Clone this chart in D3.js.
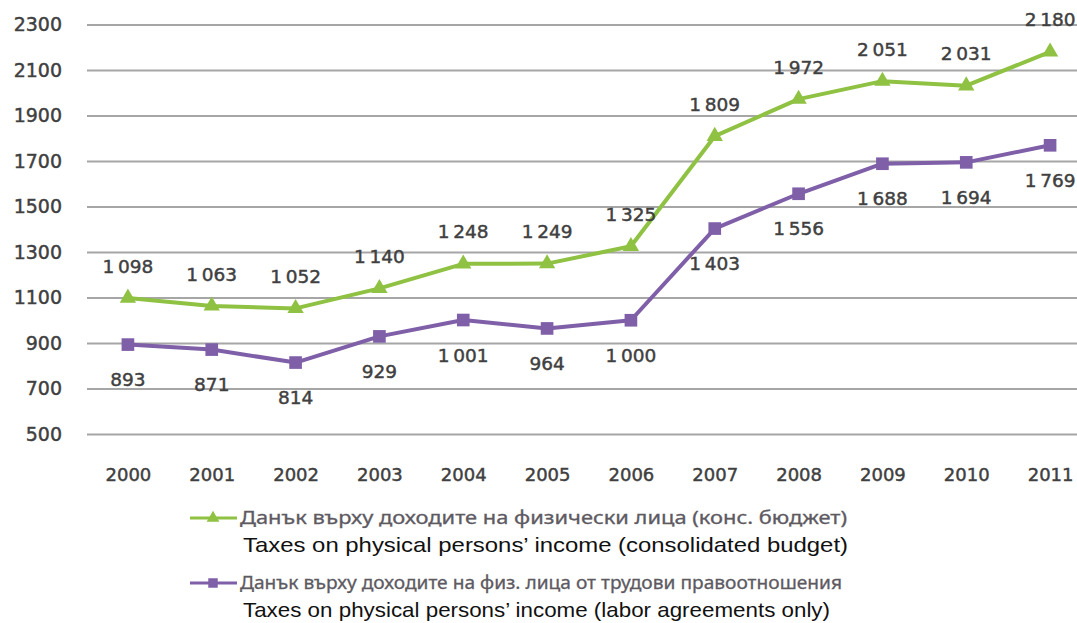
<!DOCTYPE html>
<html>
<head>
<meta charset="utf-8">
<script src="https://cdn.jsdelivr.net/npm/d3@7"></script>
<style>
  html, body { margin: 0; padding: 0; background: #ffffff; }
  svg { display: block; }
</style>
</head>
<body>
<svg id="chart" width="1077" height="623"></svg>
<script>
// Personal income tax revenue, 2000–2011
const years = ["2000", "2001", "2002", "2003", "2004", "2005", "2006", "2007", "2008", "2009", "2010", "2011"];
const consolidatedBudget = [1098, 1063, 1052, 1140, 1248, 1249, 1325, 1809, 1972, 2051, 2031, 2180];
const laborAgreements = [893, 871, 814, 929, 1001, 964, 1000, 1403, 1556, 1688, 1694, 1769];
const yTickValues = [500, 700, 900, 1100, 1300, 1500, 1700, 1900, 2100, 2300];
const legendLocal = [
  "Данък върху доходите на физически лица (конс. бюджет)",
  "Данък върху доходите на физ. лица от трудови правоотношения"
];
const legendEnglish = [
  "Taxes on physical persons’ income (consolidated budget)",
  "Taxes on physical persons’ income (labor agreements only)"
];

const GREEN = "#8fc142";
const PURPLE = "#7f5fa8";
const TEXT = "#404040";
const LABEL_FONT = "'DejaVu Sans', sans-serif";

const svg = d3.select("#chart");

const plot = { left: 86, right: 1092, top: 24.5, bottom: 434 };

const x = d3.scalePoint().domain(years).range([plot.left, plot.right]).padding(0.5);
const y = d3.scaleLinear().domain([500, 2300]).range([plot.bottom, plot.top]);

// Slightly heavier digits for axis and value labels
function heavy(sel) {
  sel.attr("fill", TEXT)
    .attr("stroke", TEXT)
    .attr("stroke-width", 0.45)
    .style("font-family", LABEL_FONT);
}

// Horizontal gridlines with value labels on the left
const yAxis = svg.append("g")
  .attr("transform", `translate(${plot.left + 1},0)`)
  .call(d3.axisLeft(y)
    .tickValues(yTickValues)
    .tickSize(-(plot.right - plot.left))
    .tickPadding(25)
    .tickFormat(d3.format("d")));
yAxis.select(".domain").remove();
yAxis.selectAll(".tick line").attr("stroke", "#a6a6a6").attr("stroke-width", 2);
yAxis.selectAll(".tick text").call(heavy).style("font-size", "19px");

// Year labels
const xAxis = svg.append("g")
  .attr("transform", `translate(0,${plot.bottom})`)
  .call(d3.axisBottom(x).tickSize(0).tickPadding(34));
xAxis.select(".domain").remove();
xAxis.selectAll(".tick text").call(heavy).style("font-size", "18px");

const fmt = d3.formatLocale({ decimal: ",", thousands: "\u2009", grouping: [3], currency: ["", ""] }).format(",d");

const series = [
  { values: consolidatedBudget, color: GREEN, symbol: d3.symbolTriangle, size: 115, labelDy: -32 },
  { values: laborAgreements, color: PURPLE, symbol: d3.symbolSquare, size: 160, labelDy: 35 }
];

const line = d3.line().x((d, i) => x(years[i])).y(d => y(d));

series.forEach(s => {
  svg.append("path")
    .datum(s.values)
    .attr("fill", "none")
    .attr("stroke", s.color)
    .attr("stroke-width", 4)
    .attr("stroke-linejoin", "round")
    .attr("d", line);

  svg.append("g").selectAll("path")
    .data(s.values)
    .join("path")
    .attr("transform", (d, i) => `translate(${x(years[i])},${y(d)})`)
    .attr("d", d3.symbol(s.symbol, s.size))
    .attr("fill", s.color);

  svg.append("g").selectAll("text")
    .data(s.values)
    .join("text")
    .attr("x", (d, i) => x(years[i]))
    .attr("y", d => y(d) + s.labelDy)
    .attr("dy", "0.36em")
    .attr("text-anchor", "middle")
    .call(heavy)
    .style("font-size", "18.5px")
    .text(d => fmt(d));
});

// Legend
const legendRows = [
  { color: GREEN, symbol: d3.symbolTriangle, size: 70, y: 518, local: legendLocal[0], english: legendEnglish[0], localLen: 607, engBase: 552, engLen: 605 },
  { color: PURPLE, symbol: d3.symbolSquare, size: 90, y: 583, local: legendLocal[1], english: legendEnglish[1], localLen: 602, engBase: 617, engLen: 587 }
];

const legend = svg.append("g");
legendRows.forEach(r => {
  legend.append("line")
    .attr("x1", 190).attr("x2", 237)
    .attr("y1", r.y).attr("y2", r.y)
    .attr("stroke", r.color).attr("stroke-width", 3);
  legend.append("path")
    .attr("transform", `translate(213,${r.y})`)
    .attr("d", d3.symbol(r.symbol, r.size))
    .attr("fill", r.color);
  legend.append("text")
    .attr("x", 240).attr("y", r.y)
    .attr("dy", "0.36em")
    .attr("fill", "#5e5a62")
    .attr("stroke", "#5e5a62")
    .attr("stroke-width", 0.3)
    .attr("textLength", r.localLen)
    .attr("lengthAdjust", "spacingAndGlyphs")
    .style("font-family", "'Noto Sans', sans-serif")
    .style("font-size", "18px")
    .text(r.local);
  legend.append("text")
    .attr("x", 243).attr("y", r.engBase)
    .attr("fill", "#111111")
    .attr("textLength", r.engLen)
    .attr("lengthAdjust", "spacingAndGlyphs")
    .style("font-family", "'Liberation Sans', Arial, sans-serif")
    .style("font-size", "21px")
    .text(r.english);
});
</script>
</body>
</html>
